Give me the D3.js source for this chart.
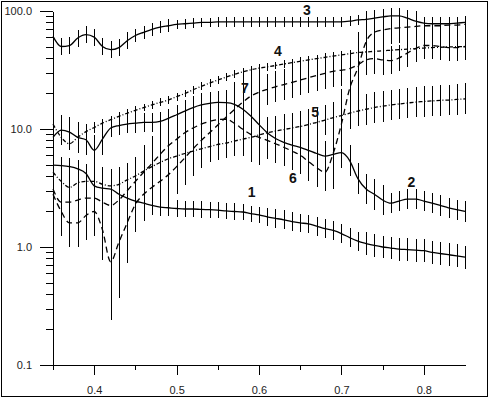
<!DOCTYPE html>
<html>
<head>
<meta charset="utf-8">
<script src="https://cdn.jsdelivr.net/npm/d3@7"></script>
<style>
  body { margin: 0; background: #fff; }
  text { font-family: "Liberation Sans", Arial, sans-serif; }
</style>
</head>
<body>
<div id="chart"></div>
<script>
// x positions (one point every 0.01)
var xVals = [0.35,0.36,0.37,0.38,0.39,0.40,0.41,0.42,0.43,0.44,
             0.45,0.46,0.47,0.48,0.49,0.50,0.51,0.52,0.53,0.54,
             0.55,0.56,0.57,0.58,0.59,0.60,0.61,0.62,0.63,0.64,
             0.65,0.66,0.67,0.68,0.69,0.70,0.71,0.72,0.73,0.74,
             0.75,0.76,0.77,0.78,0.79,0.80,0.81,0.82,0.83,0.84,
             0.85];

// series values
var s1 = [4.95,4.9,4.8,4.6,4.2,3.3,3.15,3.1,2.8,2.6,
          2.45,2.35,2.25,2.18,2.15,2.12,2.1,2.1,2.08,2.07,
          2.05,2.02,2.0,1.98,1.92,1.87,1.8,1.75,1.7,1.64,
          1.6,1.57,1.5,1.43,1.38,1.3,1.2,1.12,1.07,1.03,
          1.0,0.98,0.96,0.95,0.94,0.93,0.9,0.88,0.86,0.84,
          0.82];
var s2 = [8.5,9.8,9.4,8.5,8.1,6.6,8.2,10.2,10.7,11.0,
          11.2,11.4,11.4,11.6,12.3,13.2,14.2,15.2,16.0,16.5,
          16.8,16.7,16.2,14.8,12.9,10.9,9.3,8.3,7.7,7.3,
          7.0,6.6,6.2,5.9,6.1,6.3,5.4,3.8,3.1,2.8,
          2.5,2.35,2.45,2.55,2.55,2.45,2.35,2.25,2.15,2.07,
          2.0];
var s3 = [61,50,51,59,63,60,50,47,49,56,
          62,66,70,73,75,77,78,79,80,80,
          81,81,81,81,81,81,81,81,81,81,
          81,81,81,81,81,81,82,84,85,87,
          89,91,91,87,82,79,78,78,78,79,
          80];
var s4 = [11,8.5,7.5,8.5,9.5,10.3,11.2,12.0,12.8,13.6,
          14.4,15.2,16.0,16.8,17.6,18.8,20.0,21.5,23.0,24.5,
          26,27.5,29,30.5,31.7,32.8,33.6,34.5,35.5,36.5,
          37.5,38.5,39.5,40.5,41.5,42.5,43.5,44.5,45,45.5,
          46,46.5,47,47.5,48,48.5,49,49.3,49.6,49.8,
          50];
var s5 = [4.3,3.6,3.2,3.5,3.6,3.6,3.4,3.3,3.4,3.7,
          4.0,4.4,4.8,5.2,5.6,5.9,6.2,6.5,6.8,7.1,
          7.4,7.6,7.9,8.2,8.5,8.9,9.3,9.6,9.9,10.2,
          10.5,10.9,11.4,11.9,12.5,13.0,13.6,14.2,14.7,15.2,
          15.6,16.0,16.3,16.6,16.9,17.1,17.3,17.5,17.6,17.8,
          18.0];
var s6 = [3.1,2.4,2.4,2.5,2.6,2.6,2.4,2.25,2.5,3.0,
          3.6,4.3,5.1,6.1,7.2,8.2,9.3,10.2,11.0,11.6,
          12.0,12.1,11.2,10.0,9.0,8.5,8.0,7.5,7.0,6.5,
          6.0,5.3,4.7,4.3,6.2,11,22,33,55,66,
          69,71,72,73,74,75,75,75,76,76,
          77];
var s7 = [2.8,2.0,1.6,1.6,1.85,2.0,1.4,0.75,1.1,1.6,
          2.3,2.8,3.2,3.6,4.1,4.8,5.7,6.8,8.0,9.3,
          10.8,12.6,14.6,16.8,19.0,20.5,21.7,22.8,23.8,24.8,
          26.0,27.2,28.4,29.6,30.8,31.5,32.5,35,38.5,39.5,
          38.5,38,40,44,48,51,51,50,49,49,
          50];

// error bars, as multiplicative factors (value / f .. value * f)
var e1 = [1.18,1.18,1.18,1.18,1.18,1.18,1.18,1.18,1.18,1.18,
          1.18,1.18,1.18,1.18,1.18,1.17,1.17,1.17,1.17,1.17,
          1.17,1.17,1.17,1.17,1.17,1.17,1.2,1.2,1.2,1.2,
          1.2,1.2,1.2,1.2,1.2,1.2,1.2,1.2,1.25,1.25,
          1.25,1.25,1.25,1.25,1.25,1.25,1.25,1.25,1.25,1.25,
          1.25];
var e2 = [1.35,1.35,1.35,1.35,1.35,1.35,1.35,1.2,1.2,1.2,
          1.2,1.2,1.2,1.2,1.2,1.2,1.25,1.25,1.25,1.25,
          1.25,1.25,1.25,1.25,1.35,1.35,1.35,1.35,1.35,1.35,
          1.35,1.35,1.35,1.35,1.35,1.35,1.35,1.35,1.35,1.35,
          1.35,1.22,1.22,1.22,1.22,1.22,1.22,1.22,1.22,1.22,
          1.22];
var e3 = [1.18,1.18,1.18,1.18,1.18,1.18,1.18,1.18,1.18,1.18,
          1.13,1.13,1.13,1.13,1.13,1.1,1.1,1.1,1.1,1.1,
          1.1,1.1,1.1,1.1,1.1,1.1,1.1,1.1,1.1,1.1,
          1.1,1.1,1.1,1.1,1.1,1.1,1.1,1.1,1.17,1.17,
          1.17,1.17,1.17,1.17,1.17,1.12,1.12,1.12,1.12,1.12,
          1.12];
var e4 = [1.12,1.12,1.12,1.12,1.12,1.12,1.08,1.08,1.08,1.08,
          1.08,1.08,1.08,1.08,1.08,1.08,1.08,1.08,1.08,1.08,
          1.08,1.08,1.08,1.08,1.08,1.08,1.08,1.08,1.08,1.08,
          1.08,1.08,1.08,1.08,1.08,1.08,1.08,1.08,1.08,1.08,
          1.08,1.08,1.08,1.08,1.08,1.08,1.08,1.08,1.08,1.08,
          1.08];
var e5 = [1.4,1.4,1.4,1.4,1.4,1.4,1.4,1.4,1.4,1.4,
          1.35,1.35,1.35,1.35,1.35,1.35,1.35,1.35,1.35,1.35,
          1.35,1.35,1.35,1.35,1.35,1.35,1.35,1.35,1.35,1.35,
          1.35,1.35,1.35,1.35,1.35,1.35,1.35,1.35,1.35,1.35,
          1.35,1.35,1.35,1.35,1.35,1.35,1.35,1.35,1.35,1.35,
          1.35];
var e6 = [1.6,1.6,1.6,1.6,1.6,1.6,1.6,1.6,1.6,1.6,
          1.6,1.7,1.7,1.7,1.7,1.7,1.7,1.7,1.7,1.7,
          1.7,1.7,1.7,1.7,1.7,1.7,1.45,1.45,1.45,1.45,
          1.45,1.45,1.45,1.45,2.0,2.0,2.0,2.0,1.35,1.35,
          1.35,1.35,1.35,1.35,1.35,1.18,1.18,1.18,1.18,1.18,
          1.18];
var e7 = [1.6,1.6,1.6,1.6,1.6,1.6,1.8,3.1,3.0,2.2,
          1.7,1.7,1.7,1.7,1.7,1.7,1.7,1.7,1.7,1.7,
          1.7,1.7,1.7,1.7,1.7,1.7,1.35,1.35,1.35,1.35,
          1.35,1.35,1.35,1.35,1.35,1.35,1.35,1.35,1.35,1.35,
          1.35,1.3,1.3,1.3,1.3,1.3,1.3,1.3,1.3,1.3,
          1.3];

// curve labels, placed in data coordinates
var labelNames = ["1", "2", "3", "4", "5", "6", "7"];
var labelX = [0.591, 0.785, 0.658, 0.623, 0.668, 0.641, 0.583];
var labelY = [2.94, 3.58, 101.9, 46.1, 14.0, 3.87, 22.1];

// axis ticks
var xMajor = [0.4, 0.5, 0.6, 0.7, 0.8];
var xMinor = [0.35, 0.45, 0.55, 0.65, 0.75];
var yMajor = [0.1, 1, 10, 100];
var yMinor = [0.2,0.3,0.4,0.5,0.6,0.7,0.8,0.9,2,3,4,5,6,7,8,9,20,30,40,50,60,70,80,90];

var series = [
  { vals: s1, err: e1, dash: null },
  { vals: s2, err: e2, dash: null },
  { vals: s3, err: e3, dash: null },
  { vals: s4, err: e4, dash: "4,2,1,2" },
  { vals: s5, err: e5, dash: "4,2,1,2" },
  { vals: s6, err: e6, dash: "6,4" },
  { vals: s7, err: e7, dash: "6,4" }
];

var wi = 490;
var he = 399;

var svg = d3.select("#chart")
            .append("svg")
            .attr("width", wi)
            .attr("height", he);

// outer frame
svg.append("rect")
   .attr("x", 1.5).attr("y", 1.5)
   .attr("width", 486).attr("height", 395)
   .attr("fill", "#fff")
   .attr("stroke", "#000")
   .attr("stroke-width", 1);

var x = d3.scaleLinear().domain([0.35, 0.85]).range([53, 465]);
var y = d3.scaleLog().domain([0.1, 100]).range([365, 11]);

/* axes */
function styleAxis(g) {
  g.selectAll("path, line").attr("stroke", "#000").attr("shape-rendering", "crispEdges");
  g.selectAll("text").attr("fill", "#222").attr("font-size", "11px");
}

svg.append("g")
   .attr("transform", "translate(53,0)")
   .call(d3.axisLeft(y).tickValues(yMinor).tickSize(7).tickSizeOuter(0).tickFormat(""))
   .call(styleAxis);
svg.append("g")
   .attr("transform", "translate(53,0)")
   .call(d3.axisLeft(y).tickValues(yMajor).tickSize(13).tickSizeOuter(0)
           .tickPadding(8).tickFormat(d3.format(".1f")))
   .call(styleAxis);

svg.append("g")
   .attr("transform", "translate(0,365)")
   .call(d3.axisBottom(x).tickValues(xMinor).tickSize(5).tickSizeOuter(0).tickFormat(""))
   .call(styleAxis);
svg.append("g")
   .attr("transform", "translate(0,365)")
   .call(d3.axisBottom(x).tickValues(xMajor).tickSize(10).tickSizeOuter(0)
           .tickPadding(11).tickFormat(d3.format(".1f")))
   .call(styleAxis);

svg.selectAll(".domain").attr("stroke-width", 1);

/* error bars */
series.forEach(function(s) {
  svg.append("g")
     .selectAll("line")
     .data(s.vals)
     .enter()
     .append("line")
     .attr("x1", function(d, i) { return Math.round(x(xVals[i])) + 0.5; })
     .attr("x2", function(d, i) { return Math.round(x(xVals[i])) + 0.5; })
     .attr("y1", function(d, i) { return y(d * s.err[i]); })
     .attr("y2", function(d, i) { return y(d / s.err[i]); })
     .attr("stroke", "#000")
     .attr("stroke-width", 1)
     .attr("shape-rendering", "crispEdges");
});

/* curves */
var line = d3.line()
             .x(function(d, i) { return x(xVals[i]); })
             .y(function(d) { return y(d); })
             .curve(d3.curveMonotoneX);

series.forEach(function(s) {
  svg.append("path")
     .datum(s.vals)
     .attr("d", line)
     .attr("fill", "none")
     .attr("stroke", "#000")
     .attr("stroke-width", 1.3)
     .attr("stroke-dasharray", s.dash);
});

/* labels */
svg.selectAll("text.lbl")
   .data(labelNames)
   .enter()
   .append("text")
   .attr("class", "lbl")
   .attr("x", function(d, i) { return x(labelX[i]); })
   .attr("y", function(d, i) { return y(labelY[i]); })
   .attr("text-anchor", "middle")
   .attr("dominant-baseline", "central")
   .attr("font-size", "14px")
   .attr("font-weight", "bold")
   .attr("fill", "#111")
   .text(function(d) { return d; });
</script>
</body>
</html>
